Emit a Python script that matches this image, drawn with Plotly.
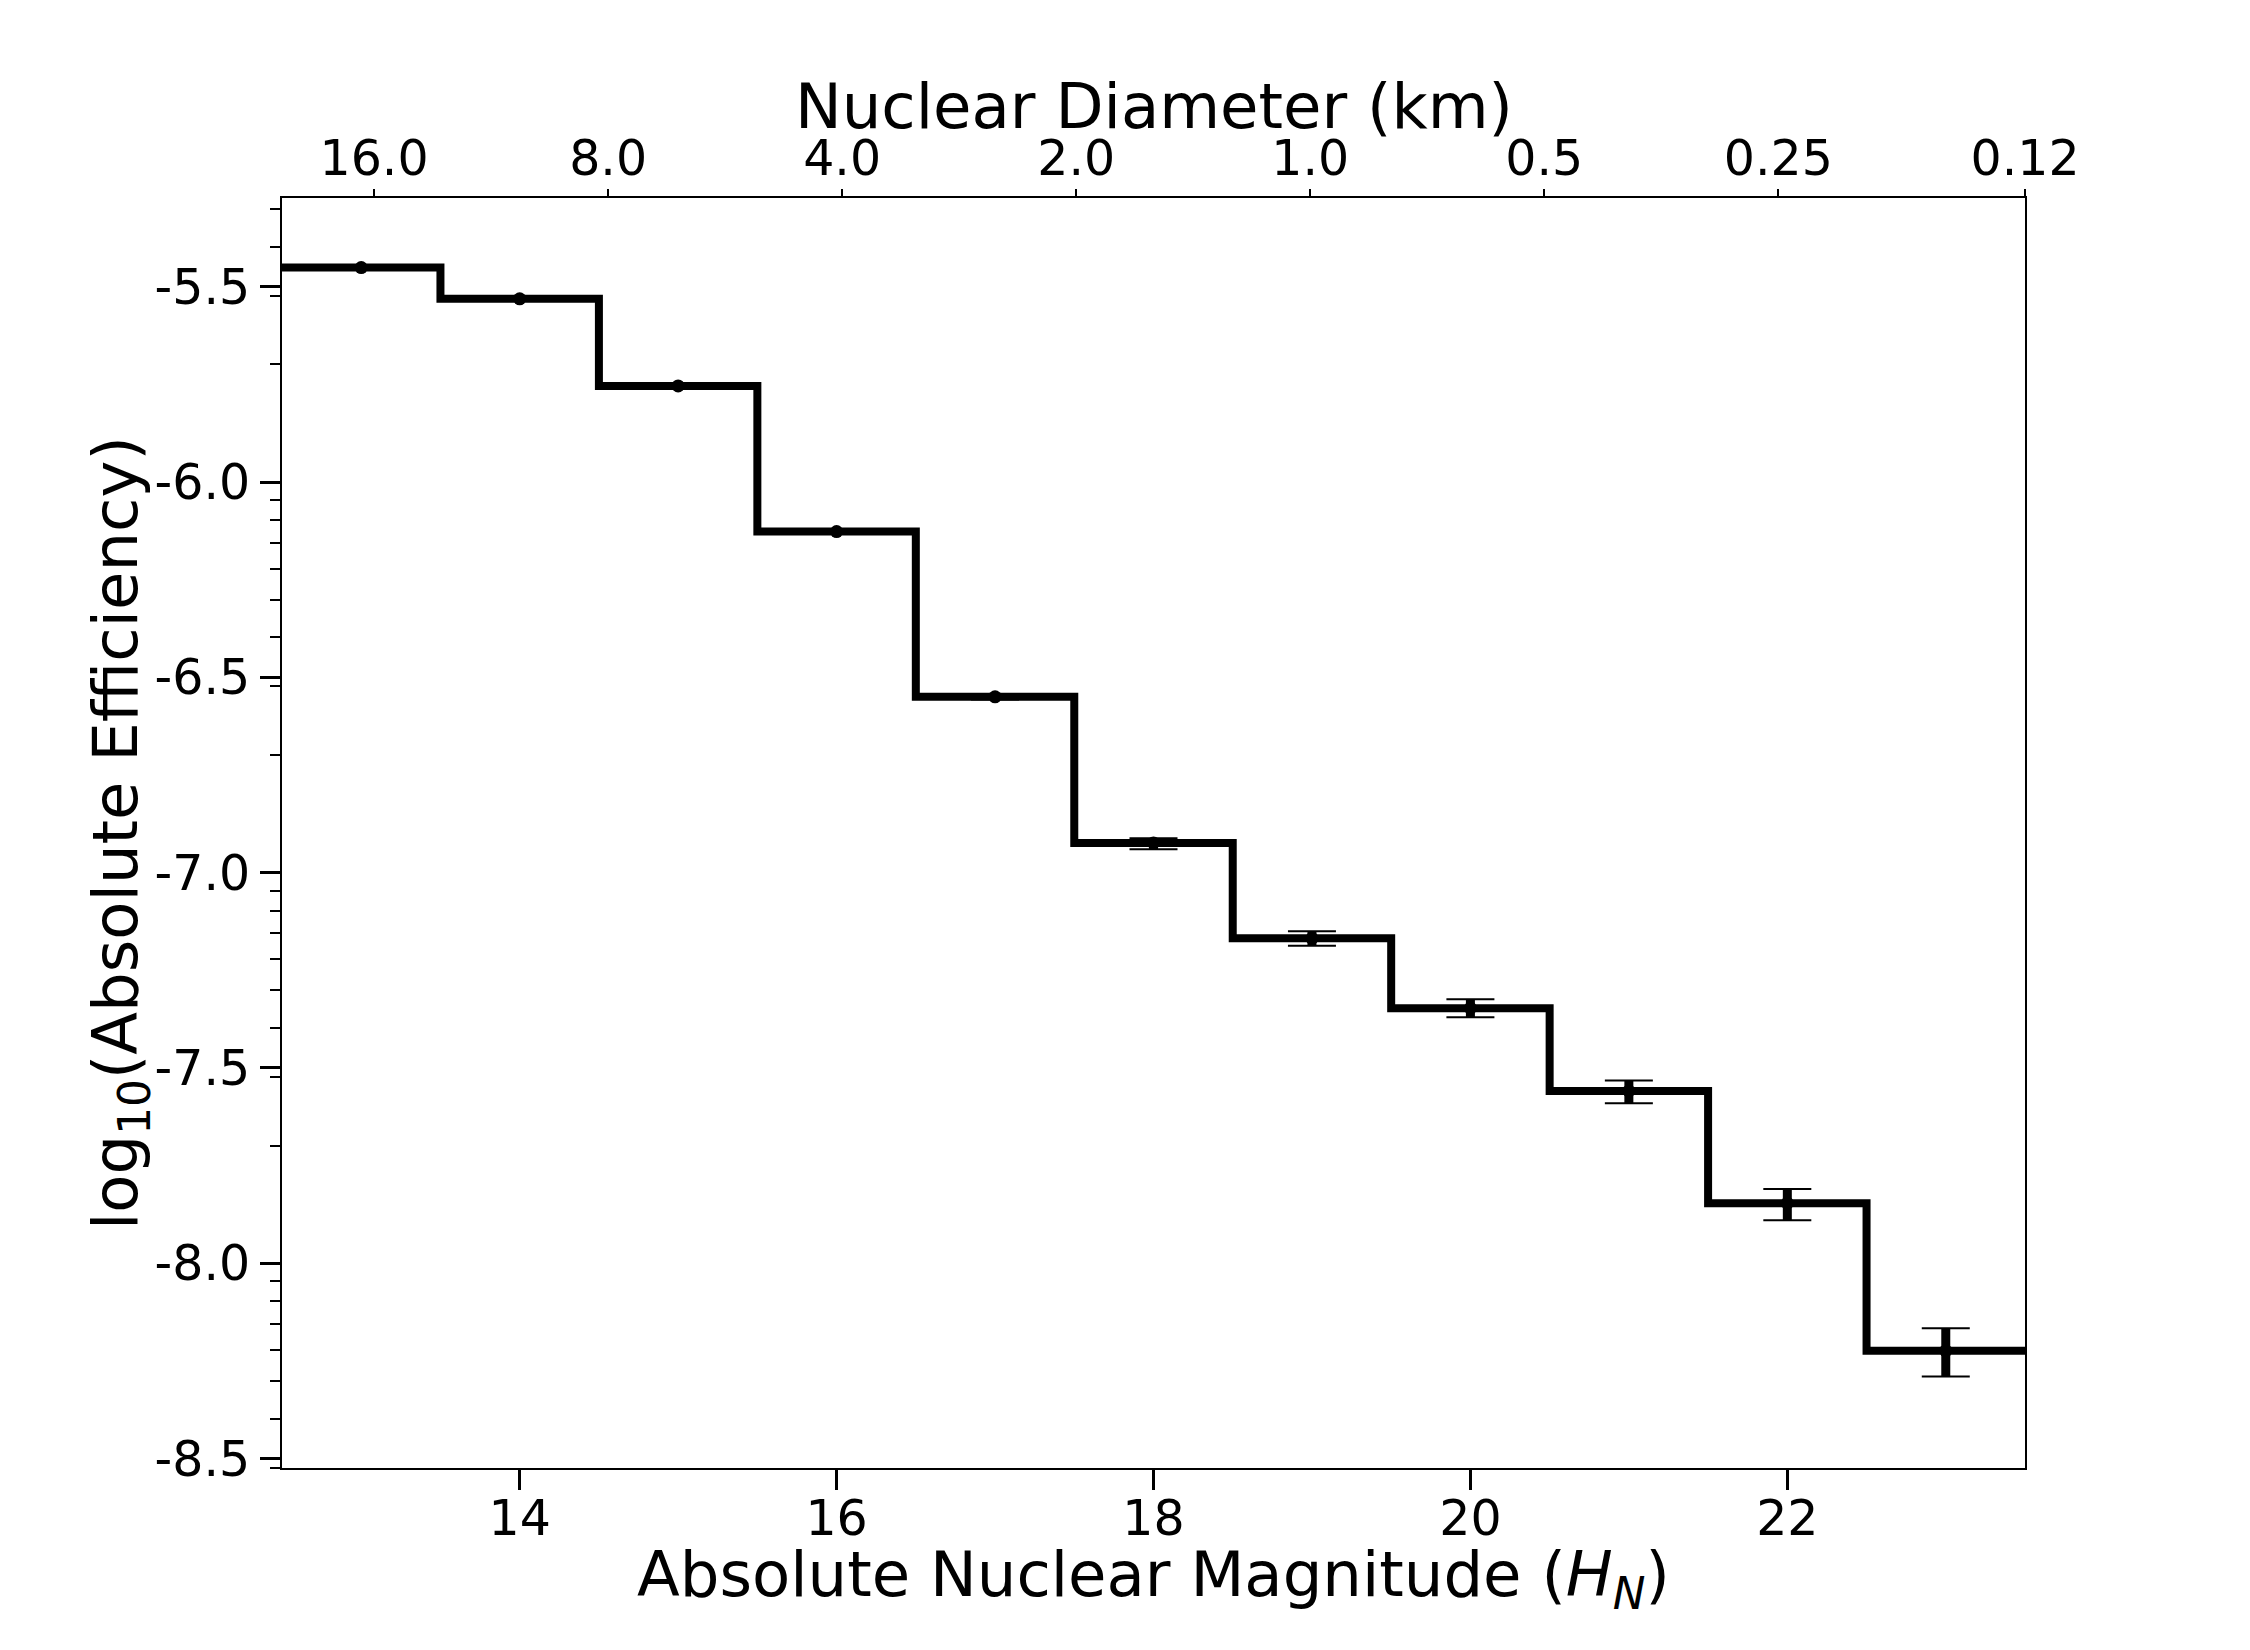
import math
import plotly.graph_objects as go

# ---- data ----
H_bins = [13, 14, 15, 16, 17, 18, 19, 20, 21, 22, 23]
log_eff = [-5.451, -5.531, -5.754, -6.127, -6.550, -6.924, -7.168, -7.347, -7.559, -7.846, -8.224]
err_plus = [0.002, 0.002, 0.003, 0.004, 0.006, 0.012, 0.018, 0.023, 0.027, 0.036, 0.058]
err_minus = [0.002, 0.002, 0.003, 0.004, 0.007, 0.016, 0.019, 0.023, 0.031, 0.044, 0.066]

x_tickvals = [14, 16, 18, 20, 22]
y_tickvals = [-5.5, -6.0, -6.5, -7.0, -7.5, -8.0, -8.5]
y_ticktext = ["-5.5", "-6.0", "-6.5", "-7.0", "-7.5", "-8.0", "-8.5"]

diam_labels = ["16.0", "8.0", "4.0", "2.0", "1.0", "0.5", "0.25", "0.12"]
diam_positions = [13.081, 14.558, 16.035, 17.512, 18.989, 20.466, 21.943, 23.5]

X_RANGE = [12.5, 23.5]
Y_RANGE = [-8.524, -5.273]

# step edges (bins of width 1 centred on each magnitude)
x_edges = [h - 0.5 for h in H_bins] + [H_bins[-1] + 0.5]
y_step = log_eff + [log_eff[-1]]

# minor ticks on the log-efficiency axis (log10 of k * 10^e)
minor_vals = []
for e in range(-10, -4):
    for k in range(2, 10):
        v = math.log10(k) + e
        if Y_RANGE[0] <= v <= Y_RANGE[1]:
            minor_vals.append(v)

FONT = "DejaVu Sans"
BLACK = "#000000"

fig = go.Figure()

fig.add_trace(go.Scatter(
    x=x_edges, y=y_step, mode="lines", line=dict(color=BLACK, width=8, shape="hv"),
    hoverinfo="skip", showlegend=False))

# thick error bar stems
fig.add_trace(go.Scatter(
    x=H_bins, y=log_eff, mode="markers",
    marker=dict(color=BLACK, size=13),
    error_y=dict(type="data", symmetric=False, array=err_plus, arrayminus=err_minus,
                 color=BLACK, thickness=9, width=0),
    showlegend=False))

# thin caps
fig.add_trace(go.Scatter(
    x=H_bins, y=log_eff, mode="markers",
    marker=dict(color=BLACK, size=1, opacity=0),
    error_y=dict(type="data", symmetric=False, array=err_plus, arrayminus=err_minus,
                 color=BLACK, thickness=2, width=24),
    showlegend=False))

# dummy trace for the top axis
fig.add_trace(go.Scatter(
    x=X_RANGE, y=[log_eff[0], log_eff[0]], xaxis="x2", mode="markers",
    marker=dict(opacity=0, size=1), hoverinfo="skip", showlegend=False))

fig.update_layout(
    width=2250, height=1650,
    paper_bgcolor="white", plot_bgcolor="white",
    margin=dict(l=282, r=225, t=198, b=182),
    font=dict(family=FONT, color=BLACK, size=49),
    xaxis=dict(
        range=X_RANGE, tickmode="array", tickvals=x_tickvals,
        ticktext=[str(v) for v in x_tickvals],
        ticks="outside", ticklen=20, tickwidth=3, tickcolor=BLACK,
        ticklabelstandoff=-14,
        showline=True, linewidth=2, linecolor=BLACK, mirror=False,
        showgrid=False, zeroline=False,
        tickfont=dict(family=FONT, size=49, color=BLACK),
    ),
    xaxis2=dict(
        range=X_RANGE, overlaying="x", side="top", anchor="y",
        tickmode="array", tickvals=diam_positions, ticktext=diam_labels,
        ticks="outside", ticklen=7, tickwidth=1.5, tickcolor=BLACK,
        ticklabelstandoff=-6,
        showline=True, linewidth=2, linecolor=BLACK,
        showgrid=False, zeroline=False,
        tickfont=dict(family=FONT, size=49, color=BLACK),
    ),
    yaxis=dict(
        range=Y_RANGE, tickmode="array", tickvals=y_tickvals, ticktext=y_ticktext,
        ticks="outside", ticklen=20, tickwidth=3, tickcolor=BLACK,
        showline=True, linewidth=2, linecolor=BLACK, mirror=True,
        showgrid=False, zeroline=False,
        tickfont=dict(family=FONT, size=49, color=BLACK),
        minor=dict(tickmode="array", tickvals=minor_vals, ticks="outside",
                   ticklen=10, tickwidth=2, tickcolor=BLACK, showgrid=False),
    ),
    annotations=[
        dict(text="Absolute Nuclear Magnitude (<i>H<sub>N</sub></i>)",
             xref="paper", yref="paper", x=0.5, y=-0.087,
             xanchor="center", yanchor="middle", showarrow=False,
             font=dict(family=FONT, size=62.5, color=BLACK)),
        dict(text="Nuclear Diameter (km)",
             xref="paper", yref="paper", x=0.5, y=1.072,
             xanchor="center", yanchor="middle", showarrow=False,
             font=dict(family=FONT, size=62.5, color=BLACK)),
        dict(text="log<sub>10</sub>(Absolute Efficiency)",
             xref="paper", yref="paper", x=-0.0935, y=0.5,
             xanchor="center", yanchor="middle", textangle=-90, showarrow=False,
             font=dict(family=FONT, size=62.5, color=BLACK)),
    ],
)

fig.write_html("out.html")
